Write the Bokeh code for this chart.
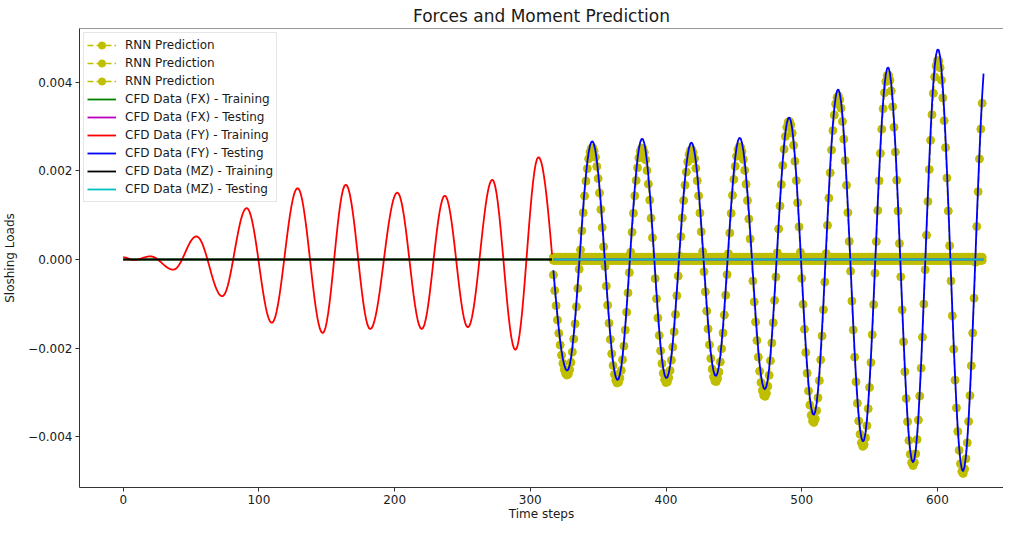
import numpy as np
from bokeh.plotting import figure
from bokeh.models import (Range1d, FixedTicker, Legend, LegendItem,
                          CustomJSTickFormatter, Span)
from bokeh.embed import file_html
from bokeh.resources import INLINE

# ---- data -----------------------------------------------------------------
# CFD FY signal: turning points (time step, load)
fy_knot_t = [0, 8, 20, 37, 54, 73, 91, 109.5, 128.5, 147, 164, 182, 202, 220,
             237, 254, 272, 289, 306, 327.2, 345.6, 364.3, 382.4, 400.3, 418.7,
             436.7, 454.3, 472.8, 490.7, 508.8, 526.8, 545.2, 563.6, 582.0,
             600.4, 618.8, 637.2]
fy_knot_v = [0.00005, -0.00001, 0.00007, -0.00023, 0.00052, -0.00083, 0.00116,
             -0.00143, 0.00161, -0.00166, 0.00169, -0.00157, 0.00151, -0.00157,
             0.00144, -0.00153, 0.00180, -0.00204, 0.00231, -0.00251, 0.00267,
             -0.00272, 0.00273, -0.00268, 0.00264, -0.00263, 0.00275, -0.00293,
             0.00321, -0.00351, 0.00384, -0.00411, 0.00434, -0.00458, 0.00475,
             -0.00478, 0.00490]
# RNN FY prediction: turning points (time step, load)
rnn_fy_knot_t = [306, 327.2, 345.6, 364.3, 382.4, 400.3, 418.7, 436.7, 454.3,
                 472.8, 490.7, 508.8, 526.8, 545.2, 563.6, 582.0, 600.4, 618.8,
                 637.2]
rnn_fy_knot_v = [0.00220, -0.00261, 0.00252, -0.00279, 0.00252, -0.00278,
                 0.00248, -0.00276, 0.00255, -0.00309, 0.00312, -0.00368,
                 0.00369, -0.00422, 0.00417, -0.00465, 0.00450, -0.00483,
                 0.00470]
# RNN FX / MZ predictions sit on the zero line
rnn_fx_level = 0.00005
rnn_mz_level = -0.00002
# CFD FX and MZ are flat at zero
cfd_fx_level = 0.0
cfd_mz_level = 0.0

train_start, train_end = 0, 316      # training time steps
test_start, test_end = 317, 634      # testing time steps
pred_start, pred_end = 317, 633      # RNN prediction time steps

x_ticks = [0, 100, 200, 300, 400, 500, 600]
y_ticks = [-0.004, -0.002, 0.0, 0.002, 0.004]


def through_knots(kt, kv, steps):
    kt = np.asarray(kt, float)
    kv = np.asarray(kv, float)
    out = []
    for s in steps:
        i = int(np.searchsorted(kt, s, side="right")) - 1
        i = min(max(i, 0), len(kt) - 2)
        f = (s - kt[i]) / (kt[i + 1] - kt[i])
        out.append(kv[i] + (kv[i + 1] - kv[i]) * (1 - np.cos(np.pi * f)) / 2)
    return np.array(out)


t_train = np.arange(train_start, train_end + 1)
t_test = np.arange(test_start, test_end + 1)
t_pred = np.arange(pred_start, pred_end + 1)

fy_train = through_knots(fy_knot_t, fy_knot_v, t_train)
fy_test = through_knots(fy_knot_t, fy_knot_v, t_test)
rnn_fy = through_knots(rnn_fy_knot_t, rnn_fy_knot_v, t_pred)
rnn_fx = np.full(len(t_pred), rnn_fx_level)
rnn_mz = np.full(len(t_pred), rnn_mz_level)
fx_train = np.full(len(t_train), cfd_fx_level)
fx_test = np.full(len(t_test), cfd_fx_level)
mz_train = np.full(len(t_train), cfd_mz_level)
mz_test = np.full(len(t_test), cfd_mz_level)

# ---- figure ----------------------------------------------------------------
FONT = "DejaVu Sans"
AX = "#333333"
TXT = "#1a1a1a"
Y0, Y1 = -0.005146, 0.005213

p = figure(width=1003, height=523, output_backend="svg", toolbar_location=None,
           x_range=Range1d(-32.2, 648.7), y_range=Range1d(Y0, Y1),
           min_border_left=75, min_border_right=0, min_border_top=24,
           min_border_bottom=0, title="Forces and Moment Prediction")
p.title.align = "center"
p.title.text_font = FONT
p.title.text_font_size = "17px"
p.title.text_font_style = "normal"
p.title.text_color = TXT
p.title.standoff = 6
p.outline_line_color = None
p.background_fill_color = "white"
p.border_fill_color = "white"
p.grid.visible = False

for ax in (p.xaxis[0], p.yaxis[0]):
    ax.axis_line_color = AX
    ax.axis_line_width = 1
    ax.major_tick_line_color = AX
    ax.major_tick_out = 4
    ax.major_tick_in = 0
    ax.minor_tick_line_color = None
    ax.major_label_text_font = FONT
    ax.major_label_text_font_size = "12px"
    ax.major_label_text_color = TXT
    ax.major_label_standoff = 3
    ax.axis_label_text_font = FONT
    ax.axis_label_text_font_size = "12px"
    ax.axis_label_text_font_style = "normal"
    ax.axis_label_text_color = TXT

p.xaxis.ticker = FixedTicker(ticks=x_ticks)
p.yaxis.ticker = FixedTicker(ticks=y_ticks)
p.yaxis.formatter = CustomJSTickFormatter(
    code="return (tick < -1e-12 ? '\u2212' : '') + Math.abs(tick).toFixed(3);")
p.xaxis.axis_label = "Time steps"
p.yaxis.axis_label = "Sloshing Loads"
p.xaxis.axis_label_standoff = 0
p.yaxis.axis_label_standoff = 8

p.add_layout(Span(location=Y1, dimension="width", line_color=AX, line_width=1))

YEL = "#bfbf00"


def rnn(y):
    ln = p.line(t_pred, y, line_color=YEL, line_width=1.6, line_dash="6 3")
    sc = p.scatter(t_pred, y, size=8, fill_color=YEL, line_color=YEL,
                   marker="circle")
    return [ln, sc]


r_fx = rnn(rnn_fx)
r_fy = rnn(rnn_fy)
r_mz = rnn(rnn_mz)

LW = 1.8
g_fx_tr = p.line(t_train, fx_train, line_color="#008000", line_width=LW)
g_fx_te = p.line(t_test, fx_test, line_color="#bf00bf", line_width=LW)
g_fy_tr = p.line(t_train, fy_train, line_color="#ff0000", line_width=LW)
g_fy_te = p.line(t_test, fy_test, line_color="#0000ff", line_width=LW)
g_mz_tr = p.line(t_train, mz_train, line_color="#000000", line_width=LW)
g_mz_te = p.line(t_test, mz_test, line_color="#00bfbf", line_width=LW)

items = [
    LegendItem(label="RNN Prediction", renderers=r_fx),
    LegendItem(label="RNN Prediction", renderers=r_fy),
    LegendItem(label="RNN Prediction", renderers=r_mz),
    LegendItem(label="CFD Data (FX) - Training", renderers=[g_fx_tr]),
    LegendItem(label="CFD Data (FX) - Testing", renderers=[g_fx_te]),
    LegendItem(label="CFD Data (FY) - Training", renderers=[g_fy_tr]),
    LegendItem(label="CFD Data (FY) - Testing", renderers=[g_fy_te]),
    LegendItem(label="CFD Data (MZ) - Training", renderers=[g_mz_tr]),
    LegendItem(label="CFD Data (MZ) - Testing", renderers=[g_mz_te]),
]
legend = Legend(items=items, location="top_left", margin=4, padding=3,
                spacing=0, glyph_width=29, glyph_height=18, label_height=18,
                label_standoff=9, label_text_font=FONT,
                label_text_font_size="12px", label_text_color=TXT,
                border_line_color="#cccccc", border_line_width=1,
                background_fill_color="white", background_fill_alpha=0.8)
p.add_layout(legend)

open("out.html", "w").write(file_html(p, INLINE))
